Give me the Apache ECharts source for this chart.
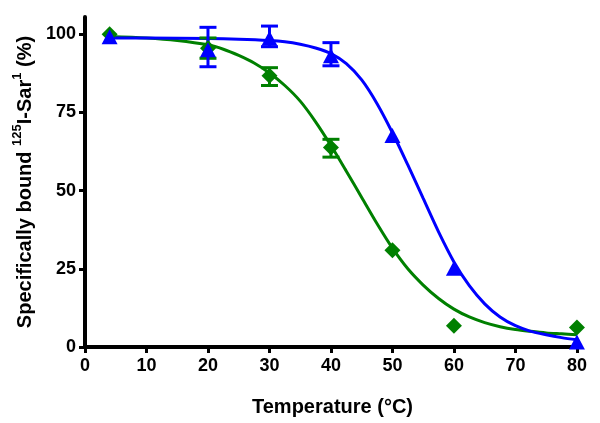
<!DOCTYPE html>
<html>
<head>
<meta charset="utf-8">
<script src="https://cdn.jsdelivr.net/npm/echarts@6/dist/echarts.min.js"></script>
<style>
  html, body { margin: 0; padding: 0; background: #fff; }
  #chart { width: 600px; height: 423px; }
</style>
</head>
<body>
<div id="chart"></div>
<script>
// tick labels
var xTicks = [0, 10, 20, 30, 40, 50, 60, 70, 80];
var yTicks = [0, 25, 50, 75, 100];

// measured points [temperature, % bound]
var greenPoints = [[4, 100], [20, 95.5], [30, 86.7], [40, 63.8], [50, 30.9], [60, 6.8], [80, 6.2]];
var bluePoints = [[4, 99.2], [20, 95], [30, 98.7], [40, 93.1], [50, 67.6], [60, 25.2], [80, 1.6]];

// error bars [temperature, low, high]
var greenErr = [[20, 92.3, 98.8], [30, 83.6, 89.3], [40, 60.7, 66.4]];
var blueErr = [[20, 89.6, 102.2], [30, 96.0, 102.6], [40, 89.9, 97.3]];

// fitted curves
var greenFit = [[4, 99.3], [10, 98.8], [15, 98], [20, 96.6], [22.5, 95.2], [25, 93.2], [27.5, 90.8], [30, 87.6],
    [32.5, 83.6], [35, 78.6], [37.5, 72], [40, 64.4], [42.5, 56.2], [45, 47.8], [47.5, 39.4], [50, 31.6],
    [52.5, 25], [55, 19.8], [57.5, 15.5], [60, 12.1], [62.5, 9.6], [65, 7.8], [67.5, 6.5], [70, 5.6],
    [72.5, 5], [75, 4.5], [77.5, 4.2], [80, 3.9]];
var blueFit = [[4, 98.8], [10, 98.8], [20, 98.6], [25, 98.4], [30, 98], [32.5, 97.6], [35, 96.8], [37.5, 95.6],
    [40, 93.8], [42.5, 90.6], [45, 85.4], [47.5, 77.8], [50, 68.5], [52.5, 58.2], [55, 47.5], [57.5, 36.8],
    [60, 27.2], [62.5, 19.6], [65, 13.8], [67.5, 9.6], [70, 6.8], [72.5, 5], [75, 3.9], [77.5, 3], [80, 2.3]];

var chart = echarts.init(document.getElementById('chart'));

function errRender(color) {
    return function (params, api) {
        var x = api.value(0);
        var lo = api.coord([x, api.value(1)]);
        var hi = api.coord([x, api.value(2)]);
        var w = 8.5;
        var st = { stroke: color, lineWidth: 3 };
        return {
            type: 'group',
            children: [
                { type: 'line', shape: { x1: lo[0], y1: lo[1], x2: hi[0], y2: hi[1] }, style: st },
                { type: 'line', shape: { x1: hi[0] - w, y1: hi[1], x2: hi[0] + w, y2: hi[1] }, style: st },
                { type: 'line', shape: { x1: lo[0] - w, y1: lo[1], x2: lo[0] + w, y2: lo[1] }, style: st }
            ]
        };
    };
}

var font = 'Liberation Sans, Arial, sans-serif';

var option = {
    animation: false,
    grid: { left: 85, right: 20, top: 17, bottom: 76 },
    xAxis: {
        type: 'value',
        min: 0,
        max: 80.5,
        name: 'Temperature (°C)',
        nameLocation: 'middle',
        nameGap: 50,
        nameTextStyle: { fontFamily: font, fontWeight: 'bold', fontSize: 20, color: '#000' },
        splitLine: { show: false },
        axisLine: { lineStyle: { color: '#000', width: 4 } },
        axisTick: { customValues: xTicks, length: 6, lineStyle: { color: '#000', width: 3 } },
        axisLabel: { customValues: xTicks, margin: 10, fontFamily: font, fontWeight: 'bold', fontSize: 18, color: '#000' }
    },
    yAxis: {
        type: 'value',
        min: 0,
        max: 105.5,
        name: '{t|Specifically bound }{s|125}{t|I-Sar}{s|1}{t| (%)}',
        nameLocation: 'middle',
        nameGap: 47,
        nameTextStyle: {
            fontFamily: font, fontWeight: 'bold', fontSize: 20, color: '#000',
            rich: {
                t: { fontFamily: font, fontWeight: 'bold', fontSize: 20, color: '#000', verticalAlign: 'bottom', lineHeight: 24 },
                s: { fontFamily: font, fontWeight: 'bold', fontSize: 13, color: '#000', verticalAlign: 'top', lineHeight: 24 }
            }
        },
        splitLine: { show: false },
        axisLine: { show: true, lineStyle: { color: '#000', width: 4 } },
        axisTick: { show: true, customValues: yTicks, length: 6, lineStyle: { color: '#000', width: 3 } },
        axisLabel: { customValues: yTicks, margin: 9, fontFamily: font, fontWeight: 'bold', fontSize: 18, color: '#000' }
    },
    series: [
        {
            type: 'line', data: greenFit, smooth: 0.3, showSymbol: false,
            lineStyle: { color: '#008000', width: 3 }, z: 2
        },
        {
            type: 'line', data: blueFit, smooth: 0.3, showSymbol: false,
            lineStyle: { color: '#0000ff', width: 3 }, z: 2
        },
        {
            type: 'custom', data: greenErr, renderItem: errRender('#008000'),
            encode: { x: 0, y: [1, 2] }, z: 3
        },
        {
            type: 'custom', data: blueErr, renderItem: errRender('#0000ff'),
            encode: { x: 0, y: [1, 2] }, z: 3
        },
        {
            type: 'scatter', data: greenPoints, symbol: 'diamond', symbolSize: [16, 16],
            itemStyle: { color: '#008000', opacity: 1 }, z: 4
        },
        {
            type: 'scatter', data: bluePoints, symbol: 'triangle', symbolSize: [16, 15],
            itemStyle: { color: '#0000ff', opacity: 1 }, z: 5
        }
    ]
};

chart.setOption(option);
</script>
</body>
</html>
